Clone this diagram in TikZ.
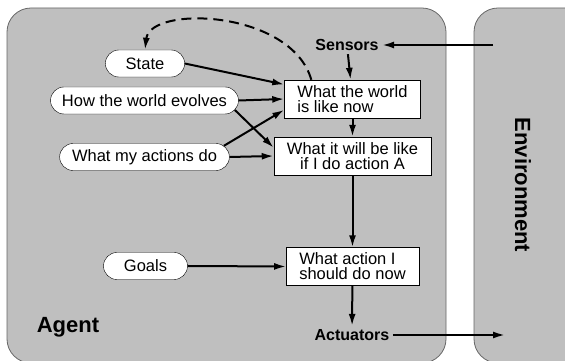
\documentclass[tikz,border=0pt]{standalone}
\usepackage{fontspec}
\setmainfont{Liberation Sans}
\usetikzlibrary{arrows.meta,shapes.misc}

\tikzset{
  oval/.style={draw=black, fill=white, rounded rectangle, inner xsep=10pt,
    minimum height=27pt, font=\fontsize{16.5}{18}\selectfont},
  box/.style={draw=black, fill=white, rectangle, inner xsep=13pt,
    minimum height=38pt, font=\fontsize{16.5}{15}\selectfont},
  port/.style={font=\fontsize{16}{18}\selectfont\bfseries},
  title/.style={font=\fontsize{22}{24}\selectfont\bfseries},
  link/.style={-{Latex[length=12pt,width=7pt]}, line width=2pt},
  region/.style={draw=black!60, fill=black!25, rounded corners=24pt, line width=0.8pt}
}

\begin{document}
\begin{tikzpicture}[x=1pt,y=1pt]
\useasboundingbox (0,0) rectangle (565,361);
\clip (0,0) rectangle (565,361);
\draw[region] (7,-2) rectangle (446,353);
\draw[region] (474,-2) rectangle (620,353);
\node[title] (agent) at (68,34) {Agent};
\node[title, rotate=-90] (env) at (523,176) {Environment};

\node[oval, inner xsep=19pt] (state) at (145,297.5) {State};
\node[oval] (evolves) at (144.5,260.5) {How the world evolves};
\node[oval] (actions) at (144.5,204) {What my actions do};
\node[oval, inner xsep=19pt] (goals) at (145.5,95) {Goals};

\node[port] (sensors) at (347,316) {Sensors};
\node[box, align=left] (world) at (352.5,262) {What the world\\is like now};
\node[box, align=center] (future) at (352.5,205) {What it will be like\\if I do action A};
\node[box, align=left] (decide) at (352.5,94.5) {What action I\\should do now};
\node[port] (actuators) at (352,26) {Actuators};
\coordinate (envin) at (493,316);
\coordinate (envout) at (505,26);

\draw[link] (state.east) -- (world.168);
\draw[link] (evolves.east) -- (world.west);
\draw[link] (evolves.-6) -- (future.174);
\draw[link] (actions.8) -- (world.189);
\draw[link] (actions.east) -- (future.west);
\draw[link] (goals.east) -- (decide.west);
\draw[link] (envin) -- (sensors);
\draw[link] (sensors) -- (world);
\draw[link] (world) -- (future);
\draw[link] (future) -- (decide);
\draw[link] (decide) -- (actuators);
\draw[link] (actuators) -- (envout);
\draw[link, dash pattern=on 10pt off 6pt] (world.155) .. controls +(-20,70) and +(5,45) .. (state.north);
\end{tikzpicture}
\end{document}
